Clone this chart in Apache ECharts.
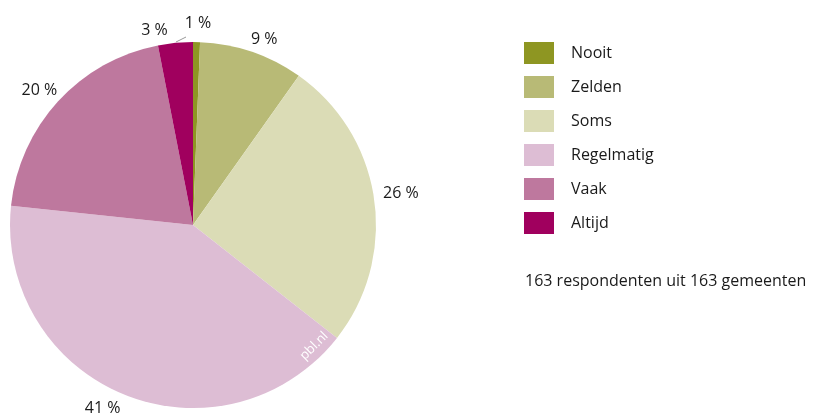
<!DOCTYPE html>
<html><head><meta charset="utf-8">
<script src="https://cdn.jsdelivr.net/npm/echarts@6/dist/echarts.min.js"></script>
<style>html,body{margin:0;padding:0;background:#fff}#c{width:816px;height:415px}</style>
</head><body><div id="c"></div>
<script>
const categories = ['Nooit', 'Zelden', 'Soms', 'Regelmatig', 'Vaak', 'Altijd'];
const respondents = [1, 15, 42, 67, 33, 5];
const colors = ['#8e9622', '#b8ba76', '#dbdcb6', '#ddbdd4', '#be789e', '#a0005e'];
const labelOffsets = [[1, 1], [6, 7], [7, -2], [-14, -5], [-4, 3], [-19, 7]];
const note = '163 respondenten uit 163 gemeenten';
const FONT = '"Open Sans", sans-serif';

const total = respondents.reduce((a, b) => a + b, 0);
const mainData = categories.map((n, i) => ({ name: n, value: respondents[i], itemStyle: { color: colors[i] } }));
const labelData = categories.map((n, i) => ({ name: n, value: respondents[i], label: { offset: labelOffsets[i] } }));

const chart = echarts.init(document.getElementById('c'), null, { renderer: 'canvas' });
chart.setOption({
  animation: false,
  title: {
    text: note, left: 520, top: 268, padding: 5,
    textStyle: { fontFamily: FONT, fontSize: 16, fontWeight: 'normal', color: '#1a1a1a' }
  },
  legend: {
    orient: 'vertical', left: 524, top: 42, padding: 0,
    itemWidth: 30, itemHeight: 22, itemGap: 12, icon: 'rect',
    data: categories,
    selectedMode: false,
    textStyle: { fontFamily: FONT, fontSize: 16, color: '#1a1a1a', padding: [0, 0, 0, 12] }
  },
  series: [
    {
      type: 'pie', center: [193, 225], radius: 183, startAngle: 90, clockwise: true,
      data: mainData, silent: true,
      label: { show: false }, labelLine: { show: false },
      itemStyle: { borderWidth: 0 }
    },
    {
      type: 'pie', center: [193, 225], radius: [183, 217], startAngle: 90, clockwise: true,
      data: labelData, silent: true,
      itemStyle: { color: 'rgba(0,0,0,0)', borderWidth: 0 },
      label: {
        show: true, position: 'inside',
        fontFamily: FONT, fontSize: 16, color: '#1a1a1a',
        formatter: p => Math.round(p.value / total * 100) + ' %'
      },
      labelLine: { show: false }
    }
  ],
  graphic: [
    {
      type: 'text', x: 314, y: 346, rotation: Math.PI / 4, z: 100,
      style: { text: 'pbl.nl', fill: '#ffffff', font: '13px ' + FONT, textAlign: 'center', textVerticalAlign: 'middle' }
    },
    {
      type: 'line', z: 100, shape: { x1: 176, y1: 42, x2: 186, y2: 37 },
      style: { stroke: '#999999', lineWidth: 1 }
    }
  ]
});
</script></body></html>
